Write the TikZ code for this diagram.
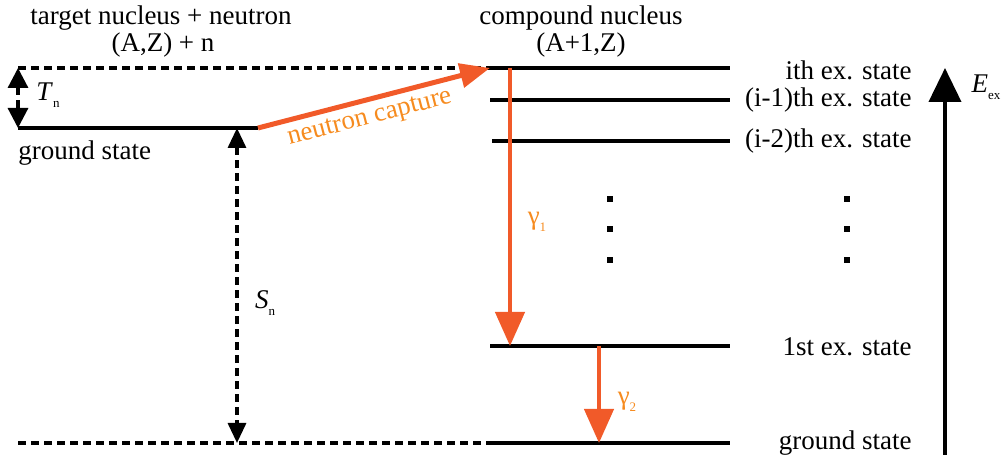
\documentclass[tikz,border=0pt]{standalone}
\usepackage{fontspec}
\setmainfont{Liberation Serif}
\usetikzlibrary{positioning,arrows.meta}
\definecolor{captarrow}{RGB}{241,90,41}
\definecolor{captlabel}{RGB}{246,139,31}
\newcommand{\lowsub}[1]{\raisebox{-0.6ex}{\fontsize{6.5}{8}\selectfont #1}}

\begin{document}
\begin{tikzpicture}[x=0.5pt,y=-0.5pt,
  every node/.style={font=\fontsize{13.5}{15}\selectfont,inner sep=0pt},
  level/.style={line width=2pt},
  gap/.style={line width=1.6pt,dash pattern=on 4pt off 2.5pt},
  gammaarrow/.style={line width=2.2pt,captarrow,-{Triangle[width=14.5pt,length=17pt]}},
  statelbl/.style={anchor=east},
  dotbox/.style={fill,minimum size=3pt,inner sep=0pt}]
  \useasboundingbox (0,0) rectangle (1003,459);
  % target side
  \node (tgt) at (161,18) {target nucleus + neutron};
  \node (tgtaz) at (163,45) {(A,Z) + n};
  \coordinate (topl) at (18,68);
  \coordinate (gsl) at (18,128);
  \coordinate (gsr) at (258,128);
  \coordinate (botl) at (18,443);
  \coordinate (snt) at (237,128);
  \coordinate (snb) at (237,443);
  \node[anchor=west] (gslbl) at (18,153) {ground state};
  % compound side
  \node (cmp) at (581,18) {compound nucleus};
  \node (cmpaz) at (581,45) {(A+1,Z)};
  \coordinate (lvi) at (490,68);
  \coordinate (lvir) at (730,68);
  \coordinate (lvh) at (490,100);
  \coordinate (lvhr) at (730,100);
  \coordinate (lvg) at (492,141);
  \coordinate (lvgr) at (730,141);
  \coordinate (lva) at (490,346);
  \coordinate (lvar) at (730,346);
  \coordinate (lvz) at (490,443);
  \coordinate (lvzr) at (730,443);
  \node[statelbl] (ilbl) at (912,70) {ith ex. state};
  \node[statelbl] (hlbl) at (912,100) {(i-1)th ex. state};
  \node[statelbl] (glbl) at (912,141) {(i-2)th ex. state};
  \node[statelbl] (albl) at (912,347) {1st ex. state};
  \node[statelbl] (zlbl) at (912,443) {ground state};
  % levels
  \draw[gap] (topl) -- (lvi);
  \draw[gap] (botl) -- (lvz);
  \draw[level] (gsl) -- (gsr);
  \draw[level] (lvi) -- (lvir);
  \draw[level] (lvh) -- (lvhr);
  \draw[level] (lvg) -- (lvgr);
  \draw[level] (lva) -- (lvar);
  \draw[level] (lvz) -- (lvzr);
  % energies
  \draw[gap,{Triangle[width=10pt,length=10pt]}-{Triangle[width=10pt,length=10pt]}] (topl) -- (gsl);
  \node (tn) at (48,95) {\textit{T}\lowsub{n}};
  \draw[gap,{Triangle[width=9pt,length=10pt]}-{Triangle[width=9pt,length=10pt]}] (snt) -- (snb);
  \node (sn) at (265,303) {\textit{S}\lowsub{n}};
  % capture and gammas
  \draw[line width=2.5pt,captarrow,-{Triangle[width=12pt,length=15pt]}] (gsr) -- (lvi);
  \node[captlabel,rotate=14.5] (capt) at (370,119) {neutron capture};
  \coordinate (g1t) at (510,68);
  \coordinate (g1b) at (510,346);
  \coordinate (g2t) at (599,346);
  \coordinate (g2b) at (599,443);
  \draw[gammaarrow] (g1t) -- (g1b);
  \draw[gammaarrow] (g2t) -- (g2b);
  \node[captlabel] (g1) at (537,222) {γ\lowsub{1}};
  \node[captlabel] (g2) at (627,402) {γ\lowsub{2}};
  % dots
  \node[dotbox] (d1) at (610,199) {};
  \node[dotbox] (d2) at (610,229) {};
  \node[dotbox] (d3) at (610,260) {};
  \node[dotbox] (d4) at (847,199) {};
  \node[dotbox] (d5) at (847,229) {};
  \node[dotbox] (d6) at (847,260) {};
  % excitation energy axis
  \coordinate (exb) at (945,455);
  \coordinate (ext) at (945,68);
  \draw[line width=2pt,-{Triangle[width=16pt,length=17pt]}] (exb) -- (ext);
  \node (ex) at (986,87) {\textit{E}\lowsub{ex}};
\end{tikzpicture}
\end{document}
